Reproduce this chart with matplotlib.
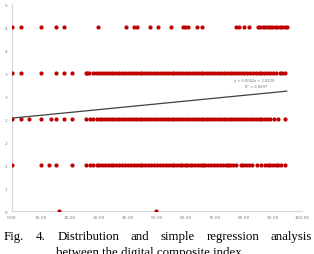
import numpy as np
import matplotlib.pyplot as plt

# x positions of the points in each response row
row0_x = [16.2, 49.7]
row1_x = [0.1, 10.0, 12.9, 15.1, 20.7, 25.5, 26.9, 28.0, 29.2,
          30, 31, 32, 33, 34, 35, 36, 37, 38, 39, 40, 41, 42, 43, 44, 45, 46, 47,
          48, 49, 50, 51, 52, 53, 54, 55, 56, 57, 57.9,
          58.6, 59.5, 60.4, 61.3, 62.2, 63.1, 64, 65, 65.9,
          66.6, 67.6, 68.6, 69.6, 70.6,
          71.8, 72.8, 73.8, 74.6,
          75.3, 76.3, 77.4,
          78.9, 79.8, 80.7, 81.6, 82.6,
          84.4, 85.8,
          87.3, 88.2, 89.1, 90, 90.9, 91.8, 92.7,
          94.1]
row2_x = [0.1, 3.0, 5.9, 10.0, 13.6, 15.1, 17.8, 20.7, 25.5, 26.9, 28.0, 29.2,
          30.3, 31, 32, 33, 34, 35, 36, 37, 38, 39, 40, 41, 42, 43, 44, 45, 46,
          47, 48, 49, 50, 51, 52, 53, 54, 55, 56, 57, 58, 59, 60, 61, 62, 63,
          64, 65, 66, 67, 68, 69, 70, 71, 72, 73, 74, 75, 76, 77, 78, 79, 80,
          81, 82, 83, 84, 85, 86, 87, 88, 89,
          90.3, 91.7, 94.1]
row3_x = [0.1, 3.0, 10.0, 15.1, 17.8, 20.7, 25.5, 25.9, 26.7,
          27.9, 29, 30, 31, 32, 33, 34, 35, 36, 37, 38, 39, 40, 41, 42, 43, 44,
          45, 46, 47, 48, 49, 50, 51, 52, 53, 54, 55, 56, 57, 58, 59, 60, 61,
          62, 63, 64, 65, 66, 67, 68, 69, 70, 71, 72, 73, 74, 75, 76, 77, 78,
          79, 80, 81, 82, 83, 84, 85, 86, 87, 88, 89, 90, 91, 92.4,
          93.0, 94.1]
row4_x = [0.1, 3.0, 10.0, 15.1, 17.8, 29.8, 39.2, 42.0, 43.2, 47.6, 50.5, 54.7,
          58.9, 59.7, 60.7, 63.7, 65.4, 77.2, 78.4, 80.1, 81.7,
          84.8, 85.6, 86.4, 87.3, 88.1, 89.0, 89.8, 90.7, 91.5, 92.3, 93.2, 94.1, 94.7]
rows = [row0_x, row1_x, row2_x, row3_x, row4_x]

slope = 0.0062
intercept = 2.0209
r2 = 0.0097
fit_range = [0.0, 94.7]

x_ticks = [0, 10, 20, 30, 40, 50, 60, 70, 80, 90, 100]
x_labels = ["0.00", "10.00", "20.00", "30.00", "40.00", "50.00",
            "60.00", "70.00", "80.00", "90.00", "100.00"]
y_ticks = [0, 0.5, 1, 1.5, 2, 2.5, 3, 3.5, 4, 4.5]
y_labels = ["0", "1", "1", "2", "2", "3", "3", "4", "4", "5"]

caption1 = "Fig. 4. Distribution and simple regression analysis"
caption2 = "between the digital composite index"

fig = plt.figure(figsize=(3.14, 2.55), dpi=100)
ax = fig.add_axes([0.038, 0.1686, 0.924, 0.811])

for val, xs in enumerate(rows):
    ax.scatter(xs, [val] * len(xs), s=9, color="#C00000", linewidths=0, zorder=3)

fx = np.array(fit_range)
ax.plot(fx, slope * fx + intercept, color="#404040", lw=0.9, zorder=4)
ax.text(90.5, 2.85, "y = %.4fx + %.4f" % (slope, intercept), fontsize=2.6,
        color="#707070", ha="right", va="center")
ax.text(88, 2.71, "R² = %.4f" % r2, fontsize=2.6, color="#707070",
        ha="right", va="center")

ax.set_xlim(0, 100)
ax.set_ylim(0, 4.5)
ax.set_xticks(x_ticks)
ax.set_xticklabels(x_labels)
ax.set_yticks(y_ticks)
ax.set_yticklabels(y_labels)
ax.tick_params(length=0, labelsize=3.2, colors="#808080", pad=3)
for s in ["top", "right"]:
    ax.spines[s].set_visible(False)
for s in ["left", "bottom"]:
    ax.spines[s].set_color("#D9D9D9")
    ax.spines[s].set_linewidth(0.8)
ax.patch.set_visible(False)

# caption, first line justified between two edges
fig.canvas.draw()
r = fig.canvas.get_renderer()
words = caption1.split()
left, right = 4, 312
texts = [fig.text(0, 0, w, fontsize=9.3, family="Liberation Serif") for w in words]
widths = [t.get_window_extent(r).width for t in texts]
gap = (right - left - sum(widths)) / (len(words) - 1)
xpos = left
for t, w in zip(texts, widths):
    t.set_position((xpos / 314, 1 - 240 / 255))
    t.set_va("baseline")
    xpos += w + gap
fig.text(0.475, 1 - 256 / 255, caption2, fontsize=9.3, family="Liberation Serif",
         ha="center", va="baseline")

fig.savefig("out.png", dpi=100)
